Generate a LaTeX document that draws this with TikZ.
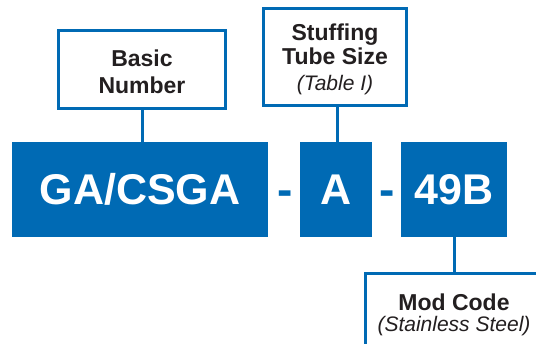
\documentclass[tikz,border=0pt]{standalone}
\usepackage{fontspec}
\setmainfont{Liberation Sans}
\usepackage{tikz}
\usetikzlibrary{positioning}
\definecolor{codeblue}{RGB}{0,106,180}
\definecolor{labelink}{RGB}{35,31,32}

\begin{document}
\begin{tikzpicture}[x=1pt, y=-1pt,
code_box/.style={fill=codeblue, text=white, inner sep=0pt, minimum height=95pt, font=\fontsize{43}{43}\selectfont\bfseries},
label_box/.style={draw=codeblue, line width=3pt, fill=white, text=labelink, inner sep=0pt, align=center},
code_dash/.style={text=codeblue, inner sep=0pt, anchor=base, font=\fontsize{46}{46}\selectfont\bfseries},
link/.style={draw=codeblue, line width=3pt}
]
\useasboundingbox (0,0) rectangle (536,344);
\clip (0,0) rectangle (536,344);

% Draw code boxes
    \node[code_box, minimum width=256pt] (basic_code) at (140,189.5) {GA/CSGA};
    \node[code_box, minimum width=72pt] (size_code) at (336,189.5) {A};
    \node[code_box, minimum width=106pt] (mod_code) at (454,189.5) {49B};
% Draw dashes between codes
    \node[code_dash] (dash1) at (285,206) {-};
    \node[code_dash] (dash2) at (387.5,206) {-};

% Draw label boxes
    \node[label_box, minimum width=167pt, minimum height=78pt, font=\fontsize{23}{27}\selectfont\bfseries] (basic_label) at (142,69.5) {\rule{0pt}{22pt}Basic\\Number};
    \node[label_box, minimum width=143pt, minimum height=97pt, font=\fontsize{23}{24}\selectfont\bfseries] (size_label) at (335,57) {\rule{0pt}{21pt}Stuffing\\Tube Size\\[2pt]{\fontsize{21}{24}\selectfont\mdseries\itshape (Table I)}};
    \node[label_box, minimum width=177pt, minimum height=79pt, font=\fontsize{23}{21}\selectfont\bfseries] (mod_label) at (454,313) {\rule{0pt}{21pt}Mod Code\\{\fontsize{21}{21}\selectfont\mdseries\itshape (Stainless Steel)}};

% Draw links
    \draw[link] (basic_label.south) -- (basic_label.south |- basic_code.north);
    \draw[link] ([xshift=2pt]size_label.south) -- ([xshift=2pt]size_label.south |- size_code.north);
    \draw[link] (mod_code.south) -- (mod_label.north);
\end{tikzpicture}
\end{document}
